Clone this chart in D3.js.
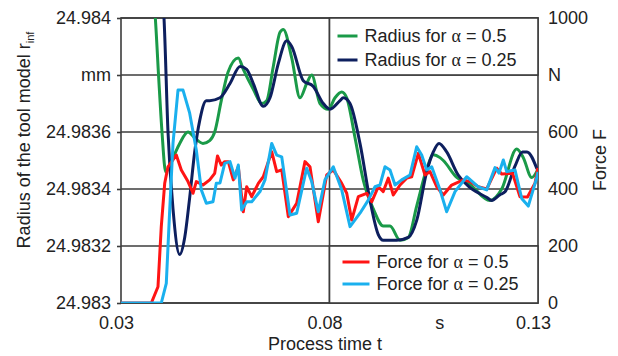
<!DOCTYPE html>
<html>
<head>
<meta charset="utf-8">
<script src="https://cdn.jsdelivr.net/npm/d3@7"></script>
<style>
body { margin: 0; background: #fff; }
text { font-family: "Liberation Sans", Arial, sans-serif; fill: #222; }
</style>
</head>
<body>
<div id="viz"></div>
<script>
var width = 618, height = 356;
var margin = {top: 18, right: 80, bottom: 53, left: 121};
var w = width - margin.left - margin.right;
var h = height - margin.top - margin.bottom;

// axis ticks (unit labels sit at a tick position of their own)
var xTicks = [0.03, 0.08, 0.1075, 0.13];
var xTickLabels = ["0.03", "0.08", "s", "0.13"];
var rTicks = [24.983, 24.9832, 24.9834, 24.9836, 24.9838, 24.984];
var rTickLabels = ["24.983", "24.9832", "24.9834", "24.9836", "mm", "24.984"];
var fTicks = [0, 200, 400, 600, 800, 1000];
var fTickLabels = ["0", "200", "400", "600", "N", "1000"];

// radius, alpha = 0.5
var tRad05 = [0.03767,0.03823,0.03904,0.03983,0.04072,0.04247,0.04408,0.04607,0.04767,0.04966,0.05127,0.05247,0.05405,0.05566,0.05813,0.05933,0.06173,0.06374,0.06494,0.06652,0.06813,0.06892,0.07094,0.07293,0.07453,0.07573,0.07772,0.07971,0.08132,0.08293,0.08413,0.08612,0.08811,0.09051,0.0929,0.09451,0.09691,0.0989,0.10091,0.10331,0.10489,0.1065,0.10729,0.11058,0.11329,0.11849,0.1213,0.12489,0.12648,0.12849,0.13];
var rad05 = [24.9841,24.984,24.98379,24.9836,24.98346,24.98351,24.98356,24.9836,24.98358,24.98356,24.98357,24.9836,24.98371,24.98381,24.98386,24.98382,24.98375,24.9837,24.98371,24.98383,24.98395,24.98396,24.98386,24.98372,24.98377,24.9838,24.9837,24.98368,24.98372,24.98374,24.98372,24.98358,24.98343,24.98333,24.98327,24.98327,24.98322,24.98323,24.98334,24.98347,24.98352,24.98351,24.9835,24.98344,24.98342,24.98336,24.9834,24.98354,24.98351,24.98344,24.98347];

// radius, alpha = 0.25
var tRad025 = [0.03983,0.04031,0.04127,0.04247,0.04408,0.04528,0.04647,0.04767,0.04887,0.05046,0.05127,0.05374,0.05614,0.05854,0.06014,0.06173,0.06412,0.06573,0.06772,0.06974,0.07094,0.07372,0.07612,0.07851,0.08012,0.08252,0.08331,0.08492,0.08731,0.08971,0.0917,0.0929,0.09612,0.0989,0.10091,0.10331,0.10489,0.10626,0.1081,0.11082,0.11329,0.11777,0.1189,0.12089,0.12209,0.12448,0.12628,0.12736,0.12976];
var rad025 = [24.9841,24.984,24.9836,24.98333,24.98317,24.98323,24.98337,24.98353,24.98364,24.98371,24.98371,24.98372,24.98377,24.98383,24.98382,24.98377,24.98369,24.98372,24.98384,24.98392,24.9839,24.98378,24.98376,24.9837,24.98368,24.98371,24.98372,24.9837,24.98356,24.98336,24.98324,24.98322,24.98322,24.98323,24.98329,24.98346,24.98353,24.98356,24.98353,24.98345,24.98341,24.98337,24.98336,24.98338,24.98339,24.98348,24.98353,24.98353,24.98347];

// force, alpha = 0.5
var tF05 = [0.03,0.03727,0.03887,0.03966,0.04048,0.04127,0.04326,0.04446,0.04607,0.04727,0.04806,0.04966,0.05127,0.05247,0.05314,0.05405,0.05487,0.05573,0.05693,0.05813,0.05933,0.06014,0.06134,0.06293,0.06412,0.06614,0.06734,0.06854,0.07012,0.07213,0.07412,0.07532,0.07731,0.07933,0.08091,0.08293,0.08413,0.08532,0.08691,0.08892,0.09012,0.0917,0.0929,0.0941,0.0953,0.09691,0.09851,0.09971,0.1013,0.1029,0.1041,0.10571,0.10729,0.1093,0.11209,0.11369,0.11568,0.1177,0.1201,0.1213,0.12389,0.12568,0.12748,0.12928,0.13];
var force05 = [0,0,57,268,420,478,519,467,426,385,426,414,432,455,516,484,496,496,432,478,320,408,373,420,443,531,461,467,303,350,496,478,285,449,467,420,385,291,373,385,355,408,391,438,379,414,438,443,525,449,461,408,379,414,432,426,408,400,473,453,455,373,372,420,474];

// force, alpha = 0.25
var tF025 = [0.03,0.03966,0.04086,0.04168,0.04247,0.04367,0.04487,0.04647,0.04806,0.04926,0.05046,0.05206,0.05285,0.05374,0.05487,0.05614,0.05734,0.05813,0.05894,0.06014,0.06134,0.06333,0.06453,0.06614,0.06734,0.06854,0.07053,0.07213,0.07453,0.07573,0.07731,0.07892,0.08091,0.08293,0.08492,0.08731,0.0893,0.09091,0.09211,0.09331,0.09451,0.09571,0.09731,0.0993,0.10091,0.10211,0.10331,0.10451,0.1065,0.1081,0.1101,0.1129,0.11561,0.1177,0.11969,0.12065,0.12168,0.1225,0.12448,0.12609,0.12767,0.12969,0.13];
var force025 = [0,0,69,326,560,747,747,666,537,397,350,355,420,421,490,496,438,484,326,355,355,391,432,560,519,513,309,315,473,426,320,432,478,397,268,315,361,408,414,478,467,414,432,449,548,519,467,478,397,320,391,443,408,397,475,456,502,461,467,367,340,439,460];

var gridColor = "#3c3c3c";
var fontSize = 18;

var x = d3.scaleLinear().domain([0.03, 0.13]).range([0, w]);
var yR = d3.scaleLinear().domain([24.983, 24.984]).range([h, 0]);
var yF = d3.scaleLinear().domain([0, 1000]).range([h, 0]);

var svg = d3.select("#viz").append("svg")
	.attr("width", width)
	.attr("height", height);

svg.append("rect")
	.attr("width", width)
	.attr("height", height)
	.style("fill", "#ffffff");

var g = svg.append("g")
	.attr("transform", "translate(" + margin.left + "," + margin.top + ")");

g.append("clipPath")
		.attr("id", "plotClip")
	.append("rect")
		.attr("width", w)
		.attr("height", h);

// grid lines
g.selectAll(".hgrid")
	.data(rTicks)
	.enter().append("line")
		.attr("class", "hgrid")
		.attr("x1", 0)
		.attr("x2", w)
		.attr("y1", function(d) { return yR(d); })
		.attr("y2", function(d) { return yR(d); })
		.style("stroke", gridColor)
		.style("stroke-width", 1.6);

g.append("line")
	.attr("x1", x(0.08)).attr("x2", x(0.08))
	.attr("y1", 0).attr("y2", h)
	.style("stroke", gridColor)
	.style("stroke-width", 1.6);

g.append("rect")
	.attr("width", w)
	.attr("height", h)
	.style("fill", "none")
	.style("stroke", gridColor)
	.style("stroke-width", 1.6);

// series
var series = [
	{t: tRad05, v: rad05, y: yR, color: "#1a9a48", curve: d3.curveMonotoneX},
	{t: tRad025, v: rad025, y: yR, color: "#0d1f5e", curve: d3.curveMonotoneX},
	{t: tF05, v: force05, y: yF, color: "#ff1414", curve: d3.curveLinear},
	{t: tF025, v: force025, y: yF, color: "#1ab0ee", curve: d3.curveLinear}
];

var lines = g.append("g").attr("clip-path", "url(#plotClip)");

series.forEach(function(s) {
	var pts = s.t.map(function(t, i) { return [t, s.v[i]]; });
	var line = d3.line()
		.x(function(d) { return x(d[0]); })
		.y(function(d) { return s.y(d[1]); })
		.curve(s.curve);
	lines.append("path")
		.datum(pts)
		.attr("d", line)
		.style("fill", "none")
		.style("stroke", s.color)
		.style("stroke-width", 3)
		.style("stroke-linejoin", "round");
});

// axes
var leftAxis = g.append("g")
	.call(d3.axisLeft(yR).tickValues(rTicks).tickSize(4).tickPadding(6)
		.tickFormat(function(d, i) { return rTickLabels[i]; }));
leftAxis.select(".domain").remove();
leftAxis.selectAll("line").style("stroke", gridColor).style("stroke-width", 1.6);

var rightAxis = g.append("g")
	.attr("transform", "translate(" + w + ",0)")
	.call(d3.axisRight(yF).tickValues(fTicks).tickSize(0).tickPadding(10)
		.tickFormat(function(d, i) { return fTickLabels[i]; }));
rightAxis.select(".domain").remove();

var bottomAxis = g.append("g")
	.attr("transform", "translate(-5," + h + ")")
	.call(d3.axisBottom(x).tickValues(xTicks).tickSize(0).tickPadding(13)
		.tickFormat(function(d, i) { return xTickLabels[i]; }));
bottomAxis.select(".domain").remove();

g.selectAll(".tick text")
	.style("font-family", "'Liberation Sans', Arial, sans-serif")
	.style("font-size", fontSize + "px")
	.style("fill", "#222");

// axis titles
svg.append("text")
	.attr("x", 325)
	.attr("y", 350)
	.attr("text-anchor", "middle")
	.style("font-size", fontSize + "px")
	.text("Process time t");

var leftTitle = svg.append("text")
	.attr("transform", "translate(30,140) rotate(-90)")
	.attr("text-anchor", "middle")
	.style("font-size", fontSize + "px");
leftTitle.append("tspan").text("Radius of the tool model r");
leftTitle.append("tspan")
	.attr("dy", 4)
	.style("font-size", "11px")
	.text("inf");

svg.append("text")
	.attr("transform", "translate(606,160) rotate(-90)")
	.attr("text-anchor", "middle")
	.style("font-size", fontSize + "px")
	.text("Force F");

// legends
var drawLegend = function(x0, y0, x1, y1, items, lineStart, lineEnd, textX, rows) {
	g.append("rect")
		.attr("x", x0)
		.attr("y", y0)
		.attr("width", x1 - x0)
		.attr("height", y1 - y0)
		.style("fill", "#ffffff")
		.style("stroke", gridColor)
		.style("stroke-width", 1.6);

	items.forEach(function(it, i) {
		g.append("line")
			.attr("x1", x0 + lineStart).attr("x2", x0 + lineEnd)
			.attr("y1", y0 + rows[i]).attr("y2", y0 + rows[i])
			.style("stroke", it.color)
			.style("stroke-width", 3);
		var t = g.append("text")
			.attr("x", x0 + textX)
			.attr("y", y0 + rows[i])
			.attr("dy", "0.35em")
			.style("font-size", fontSize + "px");
		t.append("tspan").text(it.label + " for ");
		t.append("tspan").style("font-family", "'Liberation Serif', 'DejaVu Serif', serif").text("\u03b1");
		t.append("tspan").text(" = " + it.alpha);
	});
};

drawLegend(x(0.08), yR(24.984), x(0.13), yR(24.9838), [
	{label: "Radius", alpha: "0.5", color: series[0].color},
	{label: "Radius", alpha: "0.25", color: series[1].color}
], 8, 28, 35, [18, 42]);

drawLegend(x(0.08), yF(200), x(0.13), yF(0), [
	{label: "Force", alpha: "0.5", color: series[2].color},
	{label: "Force", alpha: "0.25", color: series[3].color}
], 13, 40, 47, [16, 38]);
</script>
</body>
</html>
